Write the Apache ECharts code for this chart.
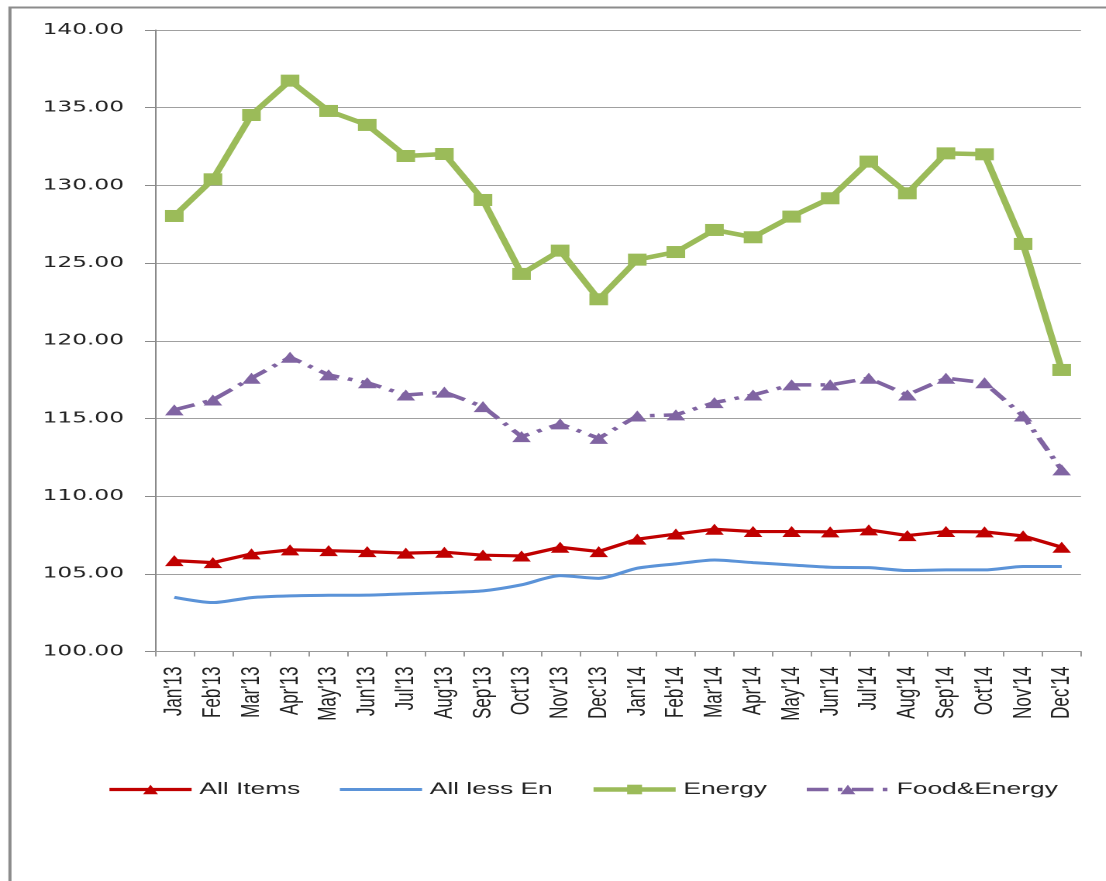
<!DOCTYPE html>
<html>
<head>
<meta charset="utf-8">
<title>Price indices 2013–2014</title>
<script src="https://cdn.jsdelivr.net/npm/echarts@6/dist/echarts.min.js"></script>
<style>
  html, body { margin: 0; padding: 0; background: #fff; overflow: hidden; }
  #page { width: 1106px; height: 881px; overflow: hidden; position: relative; }
  /* the chart is laid out narrow and widened horizontally */
  #main { position: absolute; left: 0; top: 0; width: 713.55px; height: 881px;
          transform: scaleX(1.55); transform-origin: 0 0; }
</style>
</head>
<body>
<div id="page"><div id="main"></div></div>
<script>
const months = ["Jan'13", "Feb'13", "Mar'13", "Apr'13", "May'13", "Jun'13",
                "Jul'13", "Aug'13", "Sep'13", "Oct'13", "Nov'13", "Dec'13",
                "Jan'14", "Feb'14", "Mar'14", "Apr'14", "May'14", "Jun'14",
                "Jul'14", "Aug'14", "Sep'14", "Oct'14", "Nov'14", "Dec'14"];

const allItems = [105.85, 105.72, 106.28, 106.54, 106.49, 106.43, 106.33, 106.39, 106.20, 106.15, 106.71, 106.43,
                  107.23, 107.56, 107.87, 107.72, 107.72, 107.70, 107.83, 107.46, 107.72, 107.70, 107.44, 106.71];

const allLessEn = [103.49, 103.15, 103.47, 103.58, 103.62, 103.63, 103.71, 103.79, 103.90, 104.29, 104.88, 104.71,
                   105.36, 105.64, 105.89, 105.72, 105.57, 105.42, 105.40, 105.21, 105.25, 105.25, 105.47, 105.47];

const energy = [128.03, 130.39, 134.53, 136.74, 134.79, 133.89, 131.89, 132.02, 129.06, 124.30, 125.80, 122.67,
                125.22, 125.71, 127.13, 126.66, 127.99, 129.17, 131.53, 129.49, 132.06, 132.00, 126.23, 118.12];

const foodEnergy = [115.55, 116.19, 117.59, 118.94, 117.80, 117.30, 116.51, 116.69, 115.76, 113.83, 114.65, 113.72,
                    115.16, 115.23, 116.02, 116.51, 117.16, 117.16, 117.59, 116.51, 117.59, 117.30, 115.16, 111.69];

const seriesNames = ["All Items", "All less En", "Energy", "Food&Energy"];

const yMin = 100;
const yMax = 140;
const yStep = 5;

const chart = echarts.init(document.getElementById('main'), null, { renderer: 'canvas', devicePixelRatio: 2 });

chart.setOption({
  animation: false,
  backgroundColor: '#ffffff',
  graphic: [{
    type: 'rect',
    left: 3.9, top: 5,
    shape: { x: 0, y: 0, width: 2000, height: 2000 },
    style: { fill: 'none', stroke: '#8c8c8c', lineWidth: 2 },
    silent: true
  }],
  grid: { left: 100, top: 30, width: 597.4, height: 621.5, containLabel: false },
  legend: {
    left: 64, top: 776,
    itemWidth: 53, itemHeight: 12, itemGap: 24,
    textStyle: { fontFamily: 'Liberation Sans', fontSize: 17, color: '#222' },
    lineStyle: { width: 'inherit' },
    data: [
      seriesNames[0],
      // plain line key: hide the marker glyph
      { name: seriesNames[1], itemStyle: { opacity: 0 } },
      seriesNames[2],
      seriesNames[3]
    ]
  },
  xAxis: {
    type: 'category',
    data: months,
    boundaryGap: true,
    axisLine: { lineStyle: { color: '#999', width: 1 } },
    axisTick: { show: true, length: 5, lineStyle: { color: '#999' } },
    axisLabel: {
      rotate: 90, margin: 15, interval: 0,
      fontFamily: 'Liberation Sans', fontSize: 17, color: '#222'
    },
    splitLine: { show: false }
  },
  yAxis: {
    type: 'value',
    min: yMin, max: yMax, interval: yStep,
    axisLine: { show: true, lineStyle: { color: '#8a8a8a', width: 1 } },
    axisTick: { show: true, length: 6.5, lineStyle: { color: '#8a8a8a' } },
    axisLabel: {
      margin: 20,
      fontFamily: 'DejaVu Sans', fontSize: 15, color: '#222',
      formatter: v => v.toFixed(2)
    },
    splitLine: { show: true, lineStyle: { color: '#a0a0a0', width: 1 } }
  },
  series: [
    {
      name: seriesNames[0], type: 'line', data: allItems,
      symbol: 'triangle', symbolSize: [12, 11],
      itemStyle: { color: '#c00000' },
      lineStyle: { color: '#c00000', width: 3.2 }
    },
    {
      name: seriesNames[1], type: 'line', data: allLessEn,
      symbol: 'none', smooth: 0.25,
      itemStyle: { color: '#5b93d8' },
      lineStyle: { color: '#5b93d8', width: 3 }
    },
    {
      name: seriesNames[2], type: 'line', data: energy,
      symbol: 'rect', symbolSize: [12, 12],
      itemStyle: { color: '#9bbb59' },
      lineStyle: { color: '#9bbb59', width: 4.5 }
    },
    {
      name: seriesNames[3], type: 'line', data: foodEnergy,
      symbol: 'triangle', symbolSize: [12, 11],
      itemStyle: { color: '#8064a2' },
      lineStyle: { color: '#8064a2', width: 3.5, type: [14, 6, 3, 6], cap: 'butt' }
    }
  ]
});
</script>
</body>
</html>
